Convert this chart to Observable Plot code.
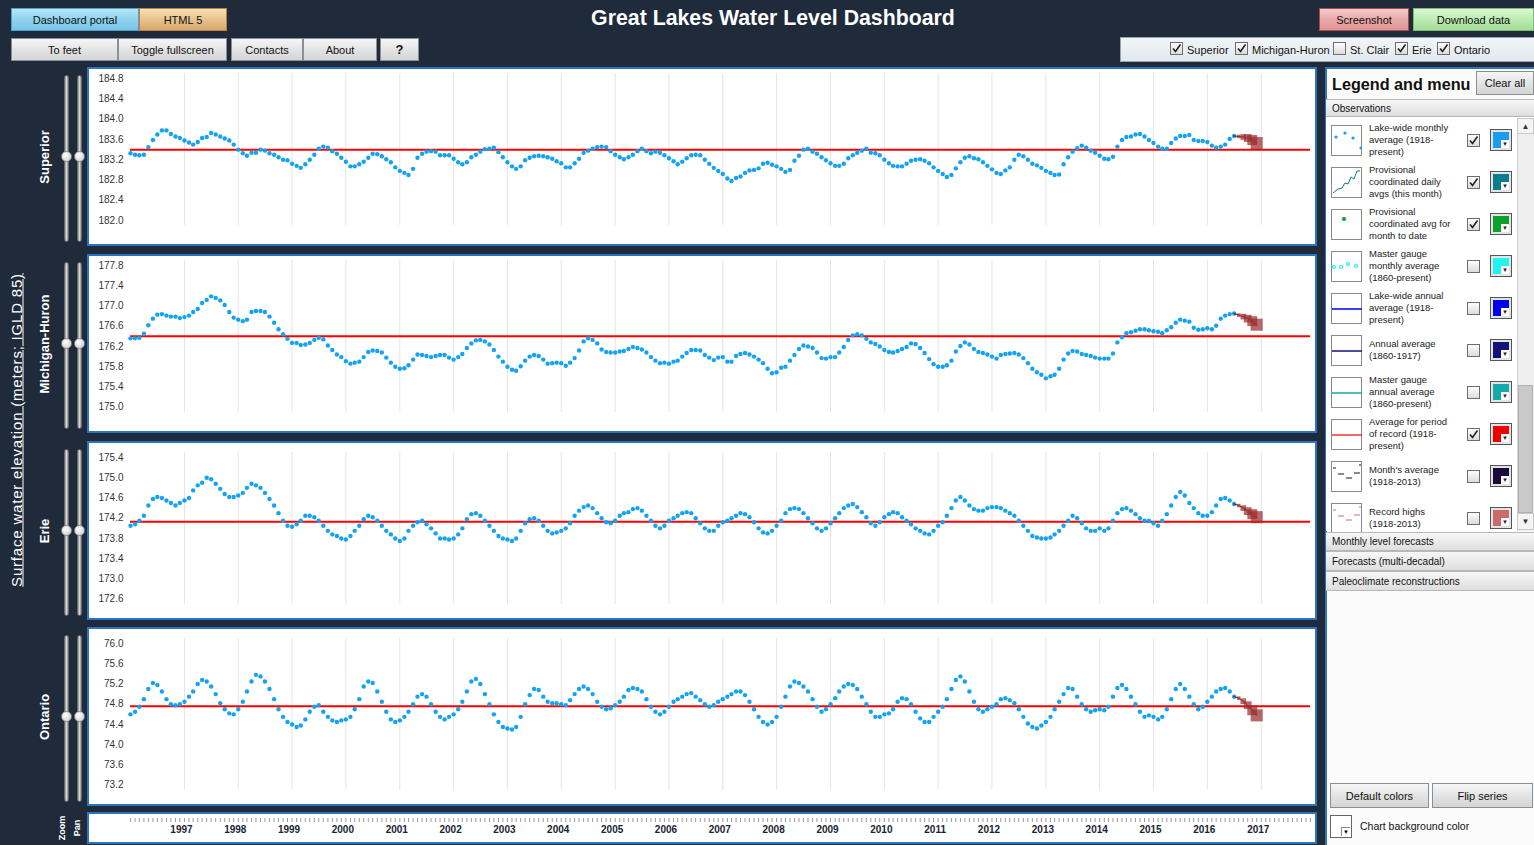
<!DOCTYPE html>
<html><head><meta charset="utf-8">
<script src="https://cdn.jsdelivr.net/npm/d3@7"></script>
<script src="https://cdn.jsdelivr.net/npm/@observablehq/plot@0.6"></script>
<style>
html,body{margin:0;padding:0}
body{background:#1f2a3b;font-family:Arial,"Liberation Sans",sans-serif;width:1534px;height:845px;overflow:hidden;position:relative}
.a{position:absolute;box-sizing:border-box}
.btn{position:absolute;box-sizing:border-box;font-size:11px;color:#111;text-align:center;display:flex;align-items:center;justify-content:center;border:1px solid #8a8f96;background:linear-gradient(#f6f6f6,#e4e4e4 50%,#d2d4d6)}
.rot{position:absolute;transform:translate(-50%,-50%) rotate(-90deg);white-space:nowrap;color:#fff}
.panel{position:absolute;left:87px;width:1230px;background:#fff;border:2px solid #2a74c2;box-sizing:border-box}
.bar{position:absolute;left:1326px;width:208px;box-sizing:border-box;font-size:10px;color:#111;padding-left:6px;display:flex;align-items:center;border-top:1px solid #b8b8b8;border-bottom:1px solid #b8b8b8;background:linear-gradient(#f7f7f7,#dedede)}
.cb{position:absolute;width:13px;height:13px;box-sizing:border-box;border:1px solid #6d6d6d;background:linear-gradient(#fdfdfd,#dcdcdc)}
.lt{position:absolute;font-size:9.5px;line-height:12px;color:#222}
</style></head>
<body>
<script>
// ---------------- DATA ----------------
const lakeNames = ["Superior", "Michigan-Huron", "Erie", "Ontario"];
// Lake-wide monthly averages, Jan 1996 .. Jul 2016 (meters, IGLD 85)
const superior = [
183.33,183.30,183.29,183.30,183.45,183.59,183.70,183.78,183.78,183.71,183.66,183.63,
183.58,183.54,183.50,183.55,183.63,183.65,183.73,183.70,183.66,183.62,183.58,183.50,
183.40,183.33,183.28,183.34,183.34,183.40,183.38,183.33,183.30,183.25,183.20,183.19,
183.12,183.08,183.04,183.11,183.20,183.30,183.42,183.46,183.44,183.37,183.32,183.24,
183.16,183.07,183.07,183.11,183.16,183.24,183.32,183.31,183.27,183.21,183.15,183.05,
182.98,182.94,182.90,183.02,183.24,183.32,183.36,183.37,183.36,183.29,183.29,183.29,
183.22,183.15,183.11,183.15,183.25,183.30,183.36,183.41,183.42,183.44,183.35,183.25,
183.15,183.07,183.02,183.07,183.19,183.24,183.27,183.28,183.27,183.25,183.22,183.17,
183.13,183.05,183.05,183.13,183.22,183.34,183.38,183.42,183.45,183.46,183.45,183.37,
183.30,183.25,183.21,183.25,183.30,183.37,183.42,183.37,183.33,183.36,183.34,183.29,
183.23,183.17,183.11,183.16,183.23,183.29,183.30,183.29,183.20,183.12,183.04,182.98,
182.92,182.83,182.78,182.84,182.87,182.94,182.99,183.00,183.03,183.12,183.14,183.10,
183.07,183.02,182.96,183.00,183.18,183.28,183.40,183.42,183.36,183.32,183.25,183.19,
183.13,183.08,183.08,183.12,183.23,183.29,183.34,183.38,183.42,183.34,183.33,183.29,
183.20,183.13,183.08,183.07,183.07,183.12,183.18,183.20,183.21,183.18,183.13,183.05,
182.98,182.92,182.86,182.90,183.03,183.15,183.24,183.27,183.23,183.21,183.15,183.08,
183.01,182.94,182.92,182.99,183.05,183.20,183.30,183.27,183.20,183.12,183.09,183.04,
182.98,182.94,182.90,182.91,183.11,183.25,183.36,183.43,183.48,183.44,183.38,183.34,
183.28,183.22,183.21,183.26,183.46,183.59,183.65,183.66,183.70,183.71,183.66,183.59,
183.53,183.46,183.42,183.42,183.53,183.62,183.67,183.67,183.69,183.59,183.57,183.57,
183.55,183.48,183.44,183.46,183.50,183.61,183.67];
const michiganHuron = [
176.36,176.36,176.37,176.45,176.62,176.75,176.83,176.84,176.81,176.79,176.79,176.76,
176.78,176.81,176.88,176.94,177.06,177.12,177.19,177.16,177.11,177.02,176.88,176.77,
176.73,176.70,176.73,176.88,176.90,176.90,176.88,176.79,176.67,176.54,176.44,176.35,
176.27,176.27,176.23,176.24,176.27,176.33,176.37,176.34,176.22,176.13,176.04,175.99,
175.91,175.86,175.88,175.90,175.99,176.09,176.12,176.11,176.08,175.98,175.88,175.80,
175.76,175.77,175.83,175.94,176.04,176.03,176.01,175.99,176.01,176.03,176.03,175.98,
175.94,175.99,176.05,176.17,176.26,176.32,176.33,176.30,176.24,176.13,176.00,175.90,
175.80,175.74,175.72,175.81,175.92,176.00,176.03,176.01,175.94,175.86,175.87,175.88,
175.87,175.82,175.88,175.97,176.12,176.30,176.36,176.33,176.26,176.14,176.09,176.08,
176.08,176.10,176.11,176.15,176.19,176.17,176.14,176.08,175.99,175.92,175.87,175.88,
175.86,175.90,175.92,176.00,176.07,176.13,176.13,176.12,176.03,175.98,175.93,175.98,
175.99,175.90,175.90,176.01,176.05,176.07,176.04,176.00,175.94,175.87,175.76,175.67,
175.69,175.78,175.80,175.92,176.03,176.15,176.22,176.20,176.17,176.08,175.97,175.96,
175.99,175.99,176.08,176.19,176.33,176.42,176.44,176.42,176.35,176.28,176.25,176.20,
176.13,176.09,176.08,176.11,176.15,176.19,176.26,176.25,176.17,176.07,175.95,175.85,
175.80,175.80,175.83,175.92,176.10,176.21,176.28,176.24,176.15,176.09,176.07,176.04,
176.00,175.96,176.03,176.05,176.06,176.07,176.04,175.97,175.87,175.76,175.69,175.64,
175.57,175.61,175.64,175.76,175.94,176.06,176.11,176.10,176.05,176.03,176.01,175.98,
175.96,175.96,175.96,176.06,176.28,176.38,176.46,176.48,176.51,176.54,176.54,176.52,
176.50,176.49,176.46,176.52,176.58,176.67,176.73,176.71,176.69,176.57,176.53,176.54,
176.56,176.54,176.61,176.75,176.81,176.84,176.85];
const erie = [
174.05,174.08,174.15,174.25,174.45,174.58,174.62,174.60,174.55,174.50,174.45,174.50,
174.55,174.60,174.75,174.85,174.90,175.00,174.97,174.88,174.78,174.68,174.62,174.62,
174.65,174.70,174.80,174.88,174.85,174.80,174.70,174.58,174.45,174.30,174.15,174.05,
174.03,174.08,174.15,174.25,174.25,174.22,174.15,174.05,173.95,173.88,173.85,173.80,
173.78,173.85,173.95,174.05,174.18,174.25,174.22,174.15,174.05,173.95,173.88,173.80,
173.75,173.80,173.95,174.05,174.12,174.15,174.08,174.00,173.90,173.80,173.80,173.78,
173.80,173.88,174.00,174.18,174.28,174.30,174.25,174.15,174.05,173.95,173.85,173.80,
173.78,173.75,173.80,173.95,174.10,174.18,174.20,174.15,174.05,173.95,173.90,173.92,
173.95,174.00,174.10,174.25,174.35,174.42,174.45,174.40,174.30,174.20,174.12,174.10,
174.15,174.25,174.30,174.32,174.38,174.40,174.35,174.25,174.15,174.05,174.00,174.05,
174.15,174.20,174.25,174.30,174.32,174.30,174.20,174.10,174.00,173.95,173.95,174.05,
174.12,174.15,174.20,174.25,174.30,174.28,174.22,174.12,174.00,173.92,173.90,173.95,
174.05,174.15,174.30,174.38,174.40,174.38,174.30,174.20,174.10,174.00,173.95,174.00,
174.10,174.20,174.30,174.40,174.45,174.48,174.42,174.32,174.22,174.10,174.05,174.12,
174.22,174.28,174.32,174.30,174.22,174.15,174.08,174.00,173.95,173.90,173.88,173.95,
174.05,174.12,174.25,174.40,174.55,174.62,174.55,174.45,174.38,174.35,174.35,174.40,
174.42,174.42,174.40,174.35,174.30,174.25,174.15,174.05,173.95,173.85,173.82,173.80,
173.80,173.82,173.88,173.95,174.05,174.15,174.25,174.20,174.10,174.00,173.95,173.95,
174.00,173.95,174.00,174.15,174.30,174.38,174.40,174.35,174.28,174.20,174.15,174.15,
174.10,174.05,174.15,174.28,174.45,174.62,174.72,174.65,174.50,174.40,174.30,174.25,
174.25,174.32,174.45,174.58,174.60,174.55,174.48];
const ontario = [
74.60,74.65,74.75,74.90,75.10,75.22,75.18,75.05,74.90,74.80,74.78,74.80,
74.85,74.95,75.05,75.20,75.28,75.25,75.15,75.00,74.82,74.70,74.62,74.60,
74.70,74.85,75.05,75.25,75.38,75.35,75.25,75.10,74.90,74.70,74.55,74.45,
74.40,74.35,74.38,74.50,74.65,74.75,74.78,74.65,74.55,74.48,74.45,74.48,
74.50,74.55,74.70,74.90,75.15,75.25,75.22,75.05,74.85,74.65,74.50,74.45,
74.48,74.55,74.65,74.80,74.95,75.00,74.95,74.80,74.65,74.55,74.50,74.55,
74.60,74.70,74.85,75.05,75.25,75.30,75.20,75.00,74.80,74.60,74.45,74.35,
74.32,74.30,74.35,74.55,74.80,74.98,75.10,75.08,74.95,74.85,74.82,74.82,
74.80,74.78,74.88,75.00,75.10,75.15,75.10,75.00,74.85,74.75,74.70,74.72,
74.78,74.85,74.95,75.08,75.12,75.10,75.05,74.90,74.75,74.65,74.60,74.65,
74.75,74.85,74.90,74.95,75.00,75.02,74.95,74.88,74.80,74.75,74.78,74.85,
74.90,74.95,75.00,75.05,75.05,74.98,74.85,74.70,74.55,74.45,74.40,74.45,
74.55,74.75,74.95,75.15,75.25,75.22,75.15,75.05,74.90,74.75,74.65,74.70,
74.80,74.92,75.05,75.15,75.20,75.18,75.10,74.95,74.80,74.65,74.55,74.55,
74.60,74.62,74.70,74.85,74.92,74.90,74.80,74.65,74.52,74.45,74.45,74.55,
74.65,74.75,74.90,75.10,75.28,75.35,75.25,75.05,74.85,74.70,74.65,74.70,
74.75,74.80,74.90,74.92,74.88,74.82,74.70,74.55,74.42,74.35,74.32,74.38,
74.45,74.55,74.70,74.85,75.00,75.12,75.10,74.95,74.80,74.70,74.65,74.68,
74.70,74.68,74.75,74.95,75.12,75.18,75.10,74.95,74.80,74.65,74.55,74.58,
74.55,74.50,74.55,74.70,74.90,75.10,75.20,75.10,74.95,74.80,74.70,74.75,
74.85,74.95,75.05,75.10,75.12,75.05,74.95];
// Monthly level forecasts, Jul .. Dec 2016
const superiorForecast = [183.67,183.66,183.65,183.63,183.59,183.53];
const michiganHuronForecast = [176.85,176.82,176.79,176.75,176.70,176.63];
const erieForecast = [174.48,174.45,174.40,174.34,174.28,174.22];
const ontarioForecast = [74.95,74.92,74.86,74.78,74.68,74.58];
const forecastSpread = [0.012,0.025,0.04,0.055,0.07,0.085];
// Average for period of record (1918-present)
const periodAverage = [183.40, 176.40, 174.13, 74.76];
// Y tick labels
const superiorTicks = [182.0,182.4,182.8,183.2,183.6,184.0,184.4,184.8];
const michiganHuronTicks = [175.0,175.4,175.8,176.2,176.6,177.0,177.4,177.8];
const erieTicks = [172.6,173.0,173.4,173.8,174.2,174.6,175.0,175.4];
const ontarioTicks = [73.2,73.6,74.0,74.4,74.8,75.2,75.6,76.0];
const yearTicks = d3.range(1997, 2018);
const legendItems = [
 ["Lake-wide monthly<br>average (1918-<br>present)", true, "#1a9cf0", "dots"],
 ["Provisional<br>coordinated daily<br>avgs (this month)", true, "#0b7d8c", "poly"],
 ["Provisional<br>coordinated avg for<br>month to date", true, "#0aa02a", "dot"],
 ["Master gauge<br>monthly average<br>(1860-present)", false, "#22f2f2", "diam"],
 ["Lake-wide annual<br>average (1918-<br>present)", false, "#0000ee", "line"],
 ["Annual average<br>(1860-1917)", false, "#12127a", "line"],
 ["Master gauge<br>annual average<br>(1860-present)", false, "#12aaaa", "line"],
 ["Average for period<br>of record (1918-<br>present)", true, "#ee0000", "line"],
 ["Month's average<br>(1918-2013)", false, "#1c0a3c", "dash"],
 ["Record highs<br>(1918-2013)", false, "#cc6a6a", "dash"]
];

// ---------------- LAYOUT HELPERS ----------------
function el(cls, x, y, w, h, html, style) {
  const d = document.createElement("div");
  d.className = cls;
  Object.assign(d.style, {left: x + "px", top: y + "px"});
  if (w != null) d.style.width = w + "px";
  if (h != null) d.style.height = h + "px";
  if (style) d.style.cssText += style;
  if (html != null) d.innerHTML = html;
  document.body.append(d);
  return d;
}
const check = '<svg width="11" height="11" style="position:absolute;left:0;top:0"><polyline points="2,5.5 4.5,8.5 9.5,1.5" fill="none" stroke="#222" stroke-width="1.6"/></svg>';
function checkbox(x, y, on) { el("cb", x, y, null, null, on ? check : ""); }

// top buttons
el("btn", 11, 8, 128, 23, "Dashboard portal", "background:linear-gradient(#b6e8f6,#8fd3ee 50%,#78c3e4);border-color:#4d9fd2");
el("btn", 139, 8, 88, 23, "HTML 5", "background:linear-gradient(#f5e0b0,#e8c38c 50%,#d8a870);border-color:#c07f3c");
el("btn", 11, 38, 107, 23, "To feet");
el("btn", 118, 38, 109, 23, "Toggle fullscreen");
el("btn", 231, 38, 72, 23, "Contacts");
el("btn", 303, 38, 74, 23, "About");
el("btn", 380, 38, 39, 23, "<b style='font-size:13px'>?</b>");
el("btn", 1319, 8, 90, 23, "Screenshot", "background:linear-gradient(#f6cccc,#eaa8a8 50%,#de9494);border-color:#b04848");
el("btn", 1413, 8, 121, 23, "Download data", "background:linear-gradient(#dcf8d4,#bcecb2 50%,#a4dc98);border-color:#7cbc74");
el("a", 0, 4, 1546, 28, "Great Lakes Water Level Dashboard", "width:1546px;text-align:center;color:#fff;font-weight:bold;font-size:21.3px;line-height:28px");

// lake selector bar
el("a", 1120, 37, 416, 25, "", "background:linear-gradient(#f2f5f8,#e2e8ee);border:1px solid #9aa4b0");
const sel = [["Superior",true,1170],["Michigan-Huron",true,1235],["St. Clair",false,1333],["Erie",true,1395],["Ontario",true,1437]];
for (const [t, on, x] of sel) {
  checkbox(x, 42, on);
  el("a", x + 17, 43, null, 14, t, "font-size:11px;color:#111;line-height:14px;white-space:nowrap");
}

// left labels
el("rot", 16, 430, null, null, "<u>Surface water elevation (meters; IGLD 85)</u>", "font-size:15px;letter-spacing:0.8px");

const panelTops = [67, 254, 441, 627];
const panelH = 179;
const topTickY = [78.3, 265, 457, 643];
const series = [superior, michiganHuron, erie, ontario];
const forecasts = [superiorForecast, michiganHuronForecast, erieForecast, ontarioForecast];
const tickSets = [superiorTicks, michiganHuronTicks, erieTicks, ontarioTicks];

const monthDate = (i, y0 = 1996, m0 = 0) => new Date(Date.UTC(y0, m0 + i, 1));
const xDomain = [new Date(Date.UTC(1996, 0, 1)), new Date(Date.UTC(2017, 11, 1))];
const yearDates = yearTicks.map(y => new Date(Date.UTC(y, 0, 1)));
const PX_PER_M = 50.6;

function slider(top, h) {
  const mid = top + h / 2;
  for (const x of [64, 77]) {
    el("a", x, top + 8, 5, h - 12, "", "background:linear-gradient(90deg,#8d8d8d,#d6d6d6,#8d8d8d);border-radius:3px;border:1px solid #6a6a6a");
    el("a", x - 3, mid - 5.5, 11, 11, "", "border-radius:50%;background:radial-gradient(circle at 40% 35%,#ffffff,#c8c8c8);border:1px solid #8a8a8a");
  }
}

lakeNames.forEach((name, k) => {
  const top = panelTops[k];
  el("panel", 87, top, null, panelH);
  el("rot", 44, top + panelH / 2, null, null, name, "font-weight:bold;font-size:13px");
  slider(top, panelH);

  const ticks = tickSets[k];
  const lo = d3.min(ticks) - 0.1, hi = d3.max(ticks) + 0.1;
  const svgTop = top + 2, H = 175;
  const mt = topTickY[k] - 0.1 * PX_PER_M - svgTop;
  const mb = H - mt - (hi - lo) * PX_PER_M;
  const obs = series[k].map((v, i) => ({date: monthDate(i), v}));
  const fc = forecasts[k].map((v, i) => ({date: monthDate(i, 2016, 6), v, s: forecastSpread[i]}));
  const chart = Plot.plot({
    width: 1226, height: H,
    marginLeft: 41, marginRight: 5, marginTop: mt, marginBottom: mb,
    style: {background: "transparent", fontFamily: "Arial, 'Liberation Sans', sans-serif", fontSize: "10px", color: "#333"},
    x: {type: "utc", domain: xDomain, axis: null},
    y: {domain: [lo, hi], ticks: ticks, tickFormat: d3.format(".1f"), tickSize: 0, tickPadding: 7, label: null},
    r: {type: "linear", domain: [0, 0.1], range: [0, 8]},
    marks: [
      Plot.ruleX(yearDates, {stroke: "#e4e4e4", strokeWidth: 1}),
      Plot.ruleY([periodAverage[k]], {stroke: "#ff0000", strokeWidth: 2}),
      Plot.dot(obs, {x: "date", y: "v", r: 2.2, fill: "#14a3f2", stroke: "none"}),
      Plot.line(fc, {x: "date", y: "v", stroke: "#5a1a1a", strokeWidth: 1}),
      Plot.dot(fc, {x: "date", y: "v", r: "s", symbol: "square", fill: "#9c2e2e", fillOpacity: 0.72, stroke: "none"})
    ]
  });
  chart.style.position = "absolute";
  chart.style.left = "89px";
  chart.style.top = svgTop + "px";
  document.body.append(chart);
});

// x-axis panel
el("panel", 87, 812, null, 32);
el("rot", 62, 828, null, null, "Zoom", "font-weight:bold;font-size:9px");
el("rot", 77, 828, null, null, "Pan", "font-weight:bold;font-size:9px");
const allMonths = d3.range(0, 22 * 12).map(i => monthDate(i));
const xaxis = Plot.plot({
  width: 1226, height: 28, marginLeft: 41, marginRight: 5, marginTop: 7, marginBottom: 4,
  style: {background: "transparent", fontFamily: "Arial, 'Liberation Sans', sans-serif", fontSize: "10px", color: "#1b2433"},
  x: {type: "utc", domain: xDomain, axis: null},
  marks: [
    Plot.axisX(allMonths, {anchor: "top", tickSize: 4, tickFormat: () => "", stroke: "#9a9a9a"}),
    Plot.text(yearDates, {x: d => d, text: d => String(d.getUTCFullYear()), fontWeight: "bold", dx: -3, fill: "#1b2433"})
  ]
});
xaxis.style.position = "absolute";
xaxis.style.left = "89px";
xaxis.style.top = "814px";
document.body.append(xaxis);

// right legend panel
el("a", 1325, 67, 209, 778, "", "background:#fbfbfb;border-left:2px solid #2a74c2;border-top:2px solid #2a74c2");
el("a", 1332, 72, null, 24, "Legend and menu", "font-weight:bold;font-size:16.2px;color:#111;line-height:24px;white-space:nowrap");
el("btn", 1476, 71, 58, 24, "Clear all");
el("bar", 0, 99, null, 18, "Observations", "left:1326px");
el("a", 1326, 117, 208, 414, "", "background:#fff");
// scrollbar
el("a", 1517, 118, 17, 413, "", "background:#efefef;border-left:1px solid #d0d0d0");
el("a", 1517, 118, 17, 16, "<span style='font-size:8px'>&#9650;</span>", "display:flex;align-items:center;justify-content:center;color:#333;background:#f4f4f4;border:1px solid #c8c8c8");
el("a", 1518, 385, 15, 128, "", "background:#c9c9c9;border:1px solid #b0b0b0");
el("a", 1517, 513, 17, 17, "<span style='font-size:8px'>&#9660;</span>", "display:flex;align-items:center;justify-content:center;color:#333;background:#f4f4f4;border:1px solid #c8c8c8");

function icon(kind, c) {
  const s = (inner) => `<svg width="30" height="30" style="position:absolute;left:0;top:0">${inner}</svg>`;
  if (kind === "dots") return s(`<circle cx="4" cy="11" r="1.6" fill="${c}"/><circle cx="13" cy="7" r="1.6" fill="${c}"/><circle cx="21" cy="12" r="1.6" fill="${c}"/><circle cx="29" cy="22" r="1.6" fill="${c}"/>`);
  if (kind === "poly") return s(`<polyline points="1,25 6,21 10,20 13,15 16,16 19,9 22,11 25,3 28,3" fill="none" stroke="${c}" stroke-width="1"/>`);
  if (kind === "dot") return s(`<circle cx="12" cy="9" r="2" fill="${c}"/>`);
  if (kind === "diam") return s(`<g fill="none" stroke="${c}" stroke-width="1.2"><circle cx="2" cy="15" r="1.5"/><circle cx="9" cy="15" r="1.5"/><circle cx="16" cy="12" r="1.5"/><circle cx="24" cy="14" r="1.5"/></g>`);
  if (kind === "line") return s(`<line x1="0" y1="15" x2="30" y2="15" stroke="${c}" stroke-width="${c === '#ee0000' ? 1.2 : 1.5}"/>`);
  return s(`<g stroke="${c}" stroke-width="1"><line x1="1" y1="6" x2="4" y2="6"/><line x1="6" y1="12" x2="12" y2="12"/><line x1="14" y1="16" x2="20" y2="16"/><line x1="22" y1="11" x2="28" y2="11"/><line x1="27" y1="3" x2="29" y2="3"/></g>`);
}
legendItems.forEach(([text, on, color, kind], i) => {
  const y = 125 + i * 42;
  el("a", 1331, y, 31, 31, icon(kind, color), "background:#fff;border:1px solid #8a8a8a");
  el("lt", 1369, y + 15, 98, null, text, "transform:translateY(-50%)");
  checkbox(1467, y + 9, on);
  el("a", 1490, y + 4, 22, 22, `<div style="position:absolute;left:2px;top:2px;width:16px;height:16px;background:${color}"></div><div style="position:absolute;left:10px;top:10px;width:8px;height:8px;background:#fff;font-size:6px;line-height:9px;text-align:center;color:#222">&#9660;</div>`, "background:#e4e4e4;border:1px solid #555");
});
el("bar", 0, 532, null, 19, "Monthly level forecasts", "left:1326px");
el("bar", 0, 551, null, 20, "Forecasts (multi-decadal)", "left:1326px");
el("bar", 0, 571, null, 20, "Paleoclimate reconstructions", "left:1326px");
el("btn", 1330, 783, 99, 25, "Default colors");
el("btn", 1432, 783, 101, 25, "Flip series");
el("a", 1330, 815, 22, 23, "<div style='position:absolute;left:10px;top:11px;width:8px;height:8px;background:#fff;border-left:1px solid #888;border-top:1px solid #888;font-size:6px;line-height:9px;text-align:center'>&#9660;</div>", "background:#fff;border:1px solid #666");
el("a", 1360, 820, null, 14, "Chart background color", "font-size:10.5px;color:#111;white-space:nowrap");
</script>
</body></html>
